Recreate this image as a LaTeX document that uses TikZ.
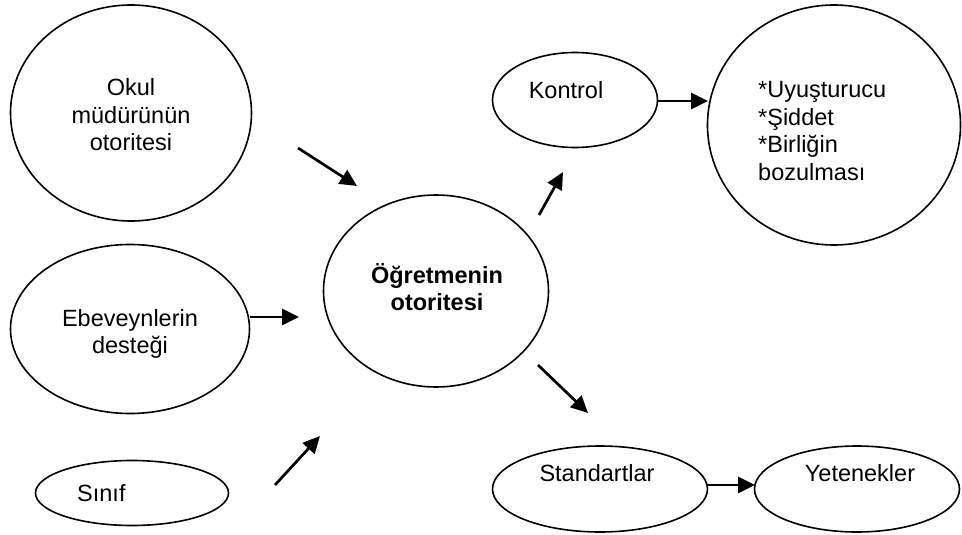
\documentclass[tikz,border=0pt]{standalone}
\usepackage{fontspec}
\setmainfont{Liberation Sans}
\usetikzlibrary{shapes.geometric,arrows.meta}
\begin{document}
\begin{tikzpicture}[x=1pt,y=-1pt,
  oval/.style={draw=black,line width=1.6pt,ellipse,inner sep=0pt},
  lbl/.style={font=\fontsize{23.5}{27.5}\selectfont,inner sep=0pt,align=center},
  arr/.style={line width=2.7pt,-{Triangle[length=17pt,width=16pt]}}]
\useasboundingbox (0,0) rectangle (962,535);
% ellipses
\node[oval,minimum width=241pt,minimum height=216pt] (e1) at (131,113) {};
\node[oval,minimum width=239pt,minimum height=169pt] (e2) at (130,329) {};
\node[oval,minimum width=193pt,minimum height=65pt] (e3) at (132,493) {};
\node[oval,minimum width=225pt,minimum height=192pt] (e4) at (436,291) {};
\node[oval,minimum width=165pt,minimum height=95pt] (e5) at (575,100) {};
\node[oval,minimum width=253pt,minimum height=240pt] (e6) at (834,125) {};
\node[oval,minimum width=215pt,minimum height=86pt] (e7) at (600,489) {};
\node[oval,minimum width=205pt,minimum height=86pt] (e8) at (857,489) {};
% texts
\node[lbl] (t1) at (131,115) {Okul\\müdürünün\\otoritesi};
\node[lbl] (t2) at (130,334) {Ebeveynlerin\\desteği};
\node[lbl,anchor=west] (t3) at (77,493) {Sınıf};
\node[lbl,font=\fontsize{23.5}{27.5}\selectfont\bfseries] (t4) at (437,287) {Öğretmenin\\otoritesi};
\node[lbl] (t5) at (566,90) {Kontrol};
\node[lbl,align=left,anchor=west] (t6) at (758,131) {*Uyuşturucu\\*Şiddet\\*Birliğin\\bozulması};
\node[lbl] (t7) at (597,473) {Standartlar};
\node[lbl] (t8) at (860,473) {Yetenekler};
% arrow end points
\coordinate (a1s) at (298,148); \coordinate (a1e) at (357,186);
\coordinate (a2s) at (250,317); \coordinate (a2e) at (299,317);
\coordinate (a3s) at (275,485); \coordinate (a3e) at (320,436);
\coordinate (a4s) at (539,215); \coordinate (a4e) at (563,172);
\coordinate (a5s) at (658,101); \coordinate (a5e) at (708,101);
\coordinate (a6s) at (538,365); \coordinate (a6e) at (588,413);
\coordinate (a7s) at (706,485); \coordinate (a7e) at (755,485);
\draw[arr] (a1s) -- (a1e);
\draw[arr] (a2s) -- (a2e);
\draw[arr] (a3s) -- (a3e);
\draw[arr] (a4s) -- (a4e);
\draw[arr] (a5s) -- (a5e);
\draw[arr] (a6s) -- (a6e);
\draw[arr] (a7s) -- (a7e);
\end{tikzpicture}
\end{document}
